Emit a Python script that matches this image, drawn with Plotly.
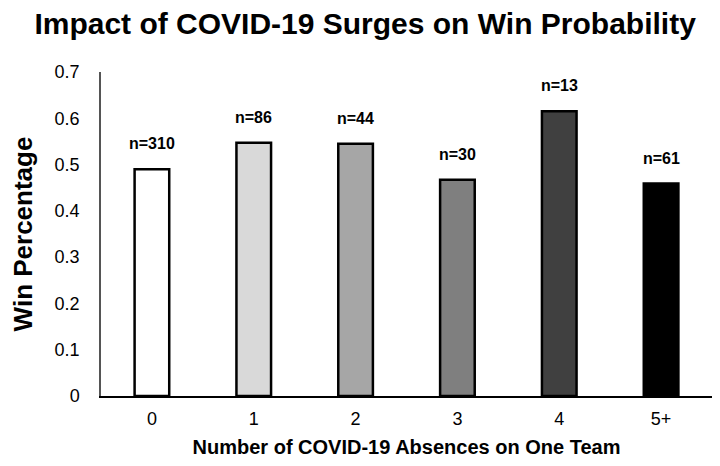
import plotly.graph_objects as go

categories = ["0", "1", "2", "3", "4", "5+"]
win_pct = [0.490, 0.547, 0.545, 0.467, 0.615, 0.459]
n_labels = ["n=310", "n=86", "n=44", "n=30", "n=13", "n=61"]
colors = ["#ffffff", "#d9d9d9", "#a6a6a6", "#7f7f7f", "#404040", "#000000"]

font = "Liberation Sans, Arial, sans-serif"

fig = go.Figure()
fig.add_trace(go.Bar(
    x=categories, y=win_pct,
    marker=dict(color=colors, line=dict(color="black", width=2.5)),
    width=0.34,
))

for c, v, t in zip(categories, win_pct, n_labels):
    fig.add_annotation(
        x=c, y=v, text=f"<b>{t}</b>", showarrow=False,
        xanchor="center", yanchor="bottom", yshift=15,
        font=dict(family=font, size=16, color="black"),
    )

fig.update_layout(
    width=720, height=466,
    margin=dict(l=93, r=16, t=64, b=78),
    paper_bgcolor="white", plot_bgcolor="white",
    title=dict(text="<b>Impact of COVID-19 Surges on Win Probability</b>",
               x=0.496, xanchor="center", y=0.966, yanchor="middle",
               font=dict(family=font, size=30, color="black")),
    showlegend=False,
)
fig.update_xaxes(
    automargin=False,
    showline=True, linecolor="black", linewidth=1.5,
    ticks="", ticklabelstandoff=6,
    tickfont=dict(family=font, size=18, color="black"),
    title=dict(text="<b>Number of COVID-19 Absences on One Team</b>",
               font=dict(family=font, size=20, color="black"), standoff=12),
)
fig.update_yaxes(
    automargin=False,
    range=[0, 0.7], dtick=0.1, tickformat="~g",
    showgrid=False, zeroline=False,
    showline=True, linecolor="#555555", linewidth=1.5,
    ticks="", ticklabelstandoff=16,
    tickfont=dict(family=font, size=18, color="black"),
    title=dict(text="<b>Win Percentage</b>",
               font=dict(family=font, size=26, color="black"), standoff=20),
)

fig.write_html("out.html")
